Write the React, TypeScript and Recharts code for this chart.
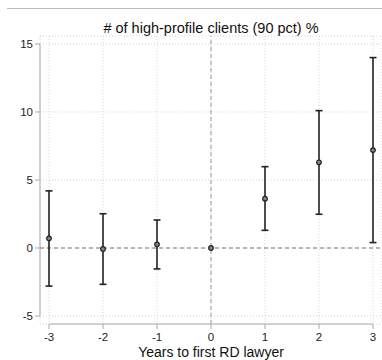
import {
  CartesianGrid,
  ComposedChart,
  ErrorBar,
  ReferenceLine,
  Scatter,
  XAxis,
  YAxis,
} from "recharts";

const years = [-3, -2, -1, 0, 1, 2, 3];
const estimates = [0.71, -0.07, 0.27, 0, 3.63, 6.3, 7.2];
const lower = [-2.8, -2.67, -1.54, 0, 1.3, 2.48, 0.4];
const upper = [4.2, 2.52, 2.06, 0, 5.98, 10.1, 14.0];
const yTicks = [-5, 0, 5, 10, 15];

const X_MIN = -3.1667;
const X_MAX = 3.1667;
const Y_MIN = -5.588;
const Y_MAX = 15.588;

const points = years
  .map((year, i) => ({
    year,
    est: estimates[i],
    err: [estimates[i] - lower[i], upper[i] - estimates[i]],
  }))
  .filter((d) => d.year !== 0);

// base year, no interval
const basePoint = years
  .map((year, i) => ({ year, est: estimates[i] }))
  .filter((d) => d.year === 0);

const font = "'Liberation Sans', Arial, Helvetica, sans-serif";

const Dot = (props: any) => {
  const { cx, cy } = props;
  return <circle cx={cx} cy={cy} r={2.3} fill="#888" stroke="#222" strokeWidth={1.2} />;
};

export default function App() {
  return (
    <div style={{ position: "absolute", left: 0, top: 0, width: 382, height: 360, fontFamily: font }}>
      <div
        style={{
          position: "absolute",
          left: 7,
          top: 8,
          width: 375,
          borderTop: "1px solid #bbb",
        }}
      />
      <div
        style={{
          position: "absolute",
          left: 40,
          width: 342,
          top: 19,
          textAlign: "center",
          fontSize: 14.5,
          color: "#111",
          lineHeight: "18px",
        }}
      >
        # of high-profile clients (90 pct) %
      </div>
      <div
        style={{
          position: "absolute",
          left: 40,
          width: 342,
          top: 344,
          textAlign: "center",
          fontSize: 14,
          color: "#111",
          lineHeight: "17px",
        }}
      >
        Years to first RD lawyer
      </div>
      <ComposedChart
        width={382}
        height={360}
        margin={{ top: 36, right: 0, left: 0, bottom: 0 }}
      >
        <CartesianGrid stroke="#d4d4d4" strokeDasharray="1 2" />
        <XAxis
          dataKey="year"
          type="number"
          domain={[X_MIN, X_MAX]}
          allowDataOverflow
          ticks={years}
          axisLine={false}
          tickLine={{ stroke: "#aaa" }}
          tickSize={5}
          tickMargin={4}
          height={36}
          tick={{ fontSize: 11.5, fill: "#222", fontFamily: font }}
        />
        <YAxis
          type="number"
          domain={[Y_MIN, Y_MAX]}
          allowDataOverflow
          ticks={yTicks}
          axisLine={false}
          tickLine={{ stroke: "#aaa" }}
          tickSize={5}
          width={40}
          tick={{ fontSize: 11.5, fill: "#222", fontFamily: font }}
        />
        <ReferenceLine
          segment={[{ x: X_MIN, y: -5 }, { x: X_MIN, y: 15 }]}
          stroke="#aaa"
          ifOverflow="visible"
        />
        <ReferenceLine
          segment={[{ x: -3, y: Y_MIN }, { x: 3, y: Y_MIN }]}
          stroke="#aaa"
          ifOverflow="visible"
        />
        <ReferenceLine y={0} stroke="#777" strokeDasharray="4 3" />
        <ReferenceLine x={0} stroke="#999" strokeDasharray="4 3" />
        <Scatter data={points} dataKey="est" shape={Dot} isAnimationActive={false}>
          <ErrorBar dataKey="err" direction="y" width={3.5} stroke="#222" strokeWidth={1.6} isAnimationActive={false} />
        </Scatter>
        <Scatter data={basePoint} dataKey="est" shape={Dot} isAnimationActive={false} />
      </ComposedChart>
    </div>
  );
}
